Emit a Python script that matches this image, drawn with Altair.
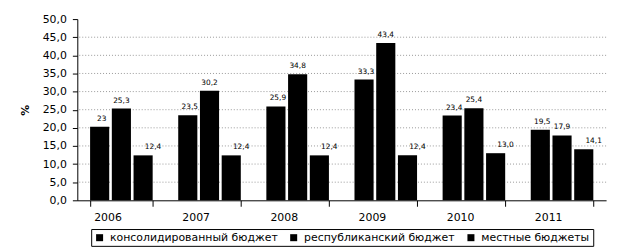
import altair as alt
import pandas as pd

years = ["2006", "2007", "2008", "2009", "2010", "2011"]
series = ["консолидированный бюджет", "республиканский бюджет", "местные бюджеты"]
consolidated = [20.3, 23.5, 25.9, 33.3, 23.4, 19.5]
republican = [25.3, 30.2, 34.8, 43.4, 25.4, 17.9]
local = [12.4, 12.4, 12.4, 12.4, 13.0, 14.1]
consolidated_labels = ["23", "23,5", "25,9", "33,3", "23,4", "19,5"]
republican_labels = ["25,3", "30,2", "34,8", "43,4", "25,4", "17,9"]
local_labels = ["12,4", "12,4", "12,4", "12,4", "13,0", "14,1"]
grid_values = [5, 10, 15, 20, 25, 30, 35, 40, 45]
y_ticks = [0, 5, 10, 15, 20, 25, 30, 35, 40, 45, 50]

rows = []
for vals, labs, s in [(consolidated, consolidated_labels, series[0]),
                      (republican, republican_labels, series[1]),
                      (local, local_labels, series[2])]:
    for y, v, l in zip(years, vals, labs):
        rows.append({"year": y, "series": s, "value": v, "label": l})
df = pd.DataFrame(rows)
grid_df = pd.DataFrame({"g": grid_values})

FONT = "DejaVu Sans"

x_enc = alt.X("year:N", sort=years, title=None,
              scale=alt.Scale(paddingInner=0.29, paddingOuter=0.145),
              axis=alt.Axis(labelAngle=0, labelFont=FONT, labelFontSize=11,
                            labelFontWeight="normal",
                            labelColor="black", domainColor="black",
                            tickColor="black", tickSize=6, tickBand="extent",
                            labelPadding=11))
xoff = alt.XOffset("series:N", sort=series, scale=alt.Scale(paddingInner=0.12))

y_axis = alt.Axis(values=y_ticks, labelOverlap=False, tickCount=11,
                  labelExpr="replace(format(datum.value, '.1f'), '.', ',')",
                  grid=False, labelFont=FONT, labelFontSize=11,
                  labelColor="black", domainColor="black",
                  tickColor="black", tickSize=5, labelPadding=6,
                  titleFont=FONT, titleFontSize=11, titleFontWeight="bold",
                  titleColor="black", titlePadding=12)

base = alt.Chart(df)

grid = alt.Chart(grid_df).mark_rule(color="#999999", strokeDash=[1, 2], strokeWidth=1).encode(
    y=alt.Y("g:Q", title="%", scale=alt.Scale(domain=[0, 50]), axis=y_axis)
)

bars = base.mark_bar().encode(
    x=x_enc,
    xOffset=xoff,
    y=alt.Y("value:Q", title="%", scale=alt.Scale(domain=[0, 50]), axis=y_axis),
    color=alt.Color("series:N", sort=series,
                    scale=alt.Scale(domain=series, range=["black", "black", "black"]),
                    legend=alt.Legend(title=None, orient="none", legendX=14, legendY=212,
                                      direction="horizontal", symbolType="square",
                                      symbolSize=50, labelFont=FONT, labelFontSize=11,
                                      labelColor="black", strokeColor="black",
                                      padding=3, columnPadding=10, labelOffset=5,
                                      symbolStrokeWidth=0, labelLimit=300)),
)

def text_layer(s, dx):
    return base.transform_filter(alt.datum.series == s).mark_text(
        font=FONT, fontSize=7.5, color="black", baseline="bottom", dy=-4, dx=dx
    ).encode(
        x=alt.X("year:N", sort=years),
        xOffset=xoff,
        y=alt.Y("value:Q"),
        text="label:N",
    )

labels = [text_layer(series[0], 2), text_layer(series[1], 0), text_layer(series[2], 10)]

chart = alt.layer(grid, labels[0], bars, labels[1], labels[2]).properties(
    width=534, height=183,
    autosize=alt.AutoSizeParams(type="none"),
    padding={"left": 70, "top": 10, "right": 10, "bottom": 51},
).configure_view(stroke=None).configure_axisY(labelOverlap=False)

chart.save("out.html", embed_options={"renderer": "svg", "actions": False})
